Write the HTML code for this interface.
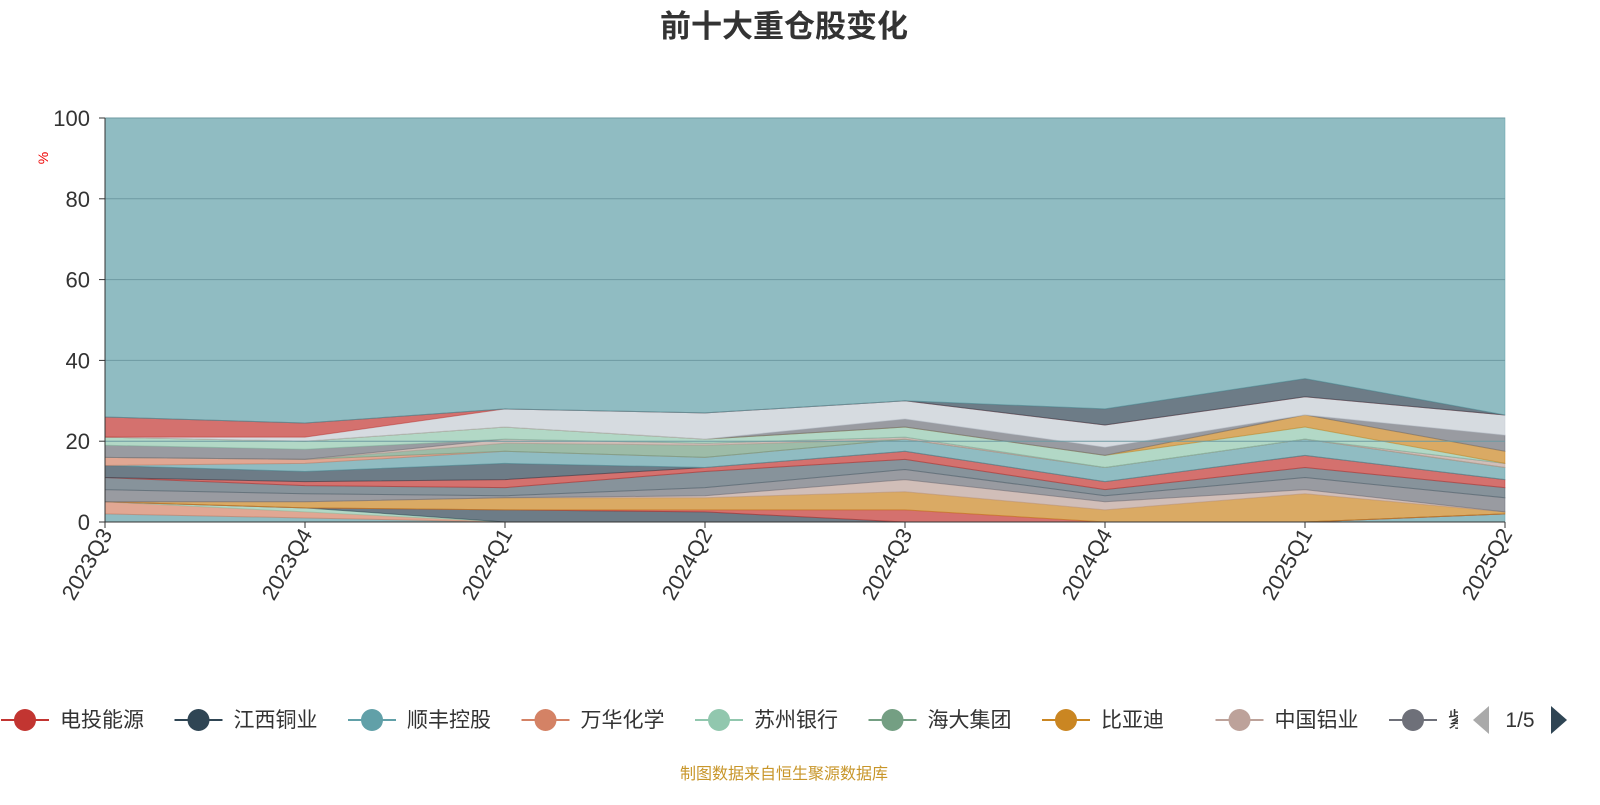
<!DOCTYPE html>
<html><head><meta charset="utf-8"><style>
html,body{margin:0;padding:0;background:#fff;}
body{width:1600px;height:800px;overflow:hidden;font-family:"Liberation Sans","Noto Sans CJK SC",sans-serif;}
</style></head><body>
<svg id="chart" width="1600" height="800" xmlns="http://www.w3.org/2000/svg" font-family="Liberation Sans, Noto Sans CJK SC, sans-serif">
<text x="784" y="37" text-anchor="middle" font-size="31" font-weight="bold" fill="#333">前十大重仓股变化</text>
<text x="48" y="158" font-size="14" fill="#e00" transform="rotate(-90 48 158)" text-anchor="middle">%</text>
<g id="areas"></g>
<g id="grid"></g>
<g id="axes"></g>
<g id="legend"></g>
<text x="784" y="779" text-anchor="middle" font-size="16" fill="#c8962a">制图数据来自恒生聚源数据库</text>
</svg>
<script>
const categories = ['2023Q3','2023Q4','2024Q1','2024Q2','2024Q3','2024Q4','2025Q1','2025Q2'];
const yTicks = [0,20,40,60,80,100];
const legendNames = ['电投能源','江西铜业','顺丰控股','万华化学','苏州银行','海大集团','比亚迪','中国铝业','紫金矿业'];
const s1 = [2,1,0,0,0,0,0,2];
const s2 = [3,1.5,0,0,0,0,0,0];
const s3 = [0,1,0,0,0,0,0,0];
const s4 = [0,0,3,2.5,0,0,0,0];
const s5 = [0,0,0,0.5,3,0,0,0];
const s6 = [0,1.5,3,3,4.5,3,7,0.5];
const s7 = [0,0,0,0.5,3,2,1,0];
const s8 = [3,2,0.5,2,2.5,1.5,3,3.5];
const s9 = [3,2,2,4,2.5,1.5,2.5,2.5];
const s10 = [0,1,2,1,2,2,3,2];
const s11 = [3,2.5,4,0,0,0,0,0];
const s12 = [0,2,3,2.5,3,3.5,4,3];
const s13 = [2,1,0,0,0,0,0,0];
const s14 = [0,0,2,3,0,0,0,0];
const s15 = [0,0,1,0.5,0.5,0,0,1];
const s16 = [3,2.5,0,0,0,0,0,0];
const s17 = [2,2,3,1,2.5,3,3,0];
const s18 = [0,0,0,0,0,0,3,3];
const s19 = [0,0,0,0,2,2,0,4];
const s20 = [0,1,4.5,6.5,4.5,5.5,4.5,5];
const s21 = [5,3.5,0,0,0,0,0,0];
const s22 = [0,0,0,0,0,4,4.5,0];
const seriesList = [s1,s2,s3,s4,s5,s6,s7,s8,s9,s10,s11,s12,s13,s14,s15,s16,s17,s18,s19,s20,s21,s22];
const palette = ['#61a0a8','#d48265','#91c7ae','#2f4554','#c23531','#ca8622','#bda29a','#6e7079','#546570','#c23531','#2f4554','#61a0a8','#d48265','#749f83','#bda29a','#6e7079','#91c7ae','#ca8622','#6e7079','#c4ccd3','#c23531','#2f4554'];
const legendColors = ['#c23531','#2f4554','#61a0a8','#d48265','#91c7ae','#749f83','#ca8622','#bda29a','#6e7079'];
const NS='http://www.w3.org/2000/svg';
const X0=105,X1=1505,Y0=522,Y1=118;
const xs=i=>X0+(X1-X0)*i/(categories.length-1);
const ys=v=>Y0-(Y0-Y1)*v/100;
function mk(t,a,p){const e=document.createElementNS(NS,t);for(const k in a)e.setAttribute(k,a[k]);p.appendChild(e);return e;}
const areas=document.getElementById('areas');
let base=categories.map(()=>0);
const all=seriesList.slice();
const sums=categories.map((c,i)=>seriesList.reduce((a,s)=>a+s[i],0));
all.push(sums.map(v=>100-v));
const cols=palette.concat(['#61a0a8']);
all.forEach((s,k)=>{
  const top=base.map((b,i)=>b+s[i]);
  let d='M'+categories.map((c,i)=>xs(i)+','+ys(top[i])).join('L');
  for(let i=categories.length-1;i>=0;i--)d+='L'+xs(i)+','+ys(base[i]);
  d+='Z';
  const p=mk('path',{d:d,fill:cols[k],'fill-opacity':0.7,stroke:cols[k],'stroke-opacity':0.5,'stroke-width':1},areas);
  
  
  base=top;
});
const grid=document.getElementById('grid'),axes=document.getElementById('axes');
yTicks.forEach(v=>{
  if(v>0){const l=mk('line',{x1:X0,x2:X1,y1:ys(v),y2:ys(v),stroke:'#6e9aa2','stroke-width':1},grid);
  }
  const t=mk('text',{x:90,y:ys(v)+8,'text-anchor':'end','font-size':22,fill:'#333'},axes);t.textContent=v;
  
  mk('line',{x1:X0-6,x2:X0,y1:ys(v),y2:ys(v),stroke:'#333'},axes);
});
mk('line',{x1:X0,x2:X0,y1:Y1,y2:Y0,stroke:'#333'},axes);
mk('line',{x1:X0,x2:X1,y1:Y0,y2:Y0,stroke:'#333'},axes);
categories.forEach((c,i)=>{
  mk('line',{x1:xs(i),x2:xs(i),y1:Y0,y2:Y0+6,stroke:'#333'},axes);
  const t=mk('text',{x:xs(i)+8,y:Y0+12,'text-anchor':'end','font-size':22,fill:'#333',transform:'rotate(-60 '+(xs(i)+8)+' '+(Y0+12)+')'},axes);
  t.textContent=c;
});
const lg=document.getElementById('legend');
const cp=mk('clipPath',{id:'lc'},lg);mk('rect',{x:0,y:690,width:1458,height:60},cp);
legendNames.forEach((n,i)=>{
  const cx=25+i*173.5;
  const g=mk('g',{'clip-path':'url(#lc)'},lg);
  
  mk('line',{x1:cx-24,x2:cx+24,y1:720,y2:720,stroke:legendColors[i],'stroke-width':2},g);
  mk('circle',{cx:cx,cy:720,r:11,fill:legendColors[i]},g);
  const t=mk('text',{x:cx+35,y:727,'font-size':21,fill:'#333'},g);t.textContent=n;
});
const pl=mk('path',{d:'M1489,706L1489,734L1473,720Z',fill:'#aaa'},lg);
const pt=mk('text',{x:1520,y:727,'text-anchor':'middle','font-size':21,fill:'#333'},lg);pt.textContent='1/5';
const pn=mk('path',{d:'M1551,706L1551,734L1567,720Z',fill:'#2f4554'},lg);
</script>
</body></html>
